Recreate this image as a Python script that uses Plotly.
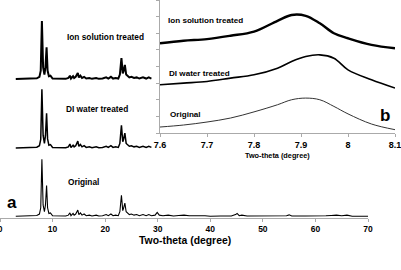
import plotly.graph_objects as go

# ---------------- main panel (a) data ----------------
x_main = [3, 6, 7, 7.5, 7.75, 7.97, 8.2, 8.45, 8.65, 8.86, 9.05, 9.3, 9.6, 10, 11,
          12.5, 13.0, 13.3, 13.5, 13.9, 14.1, 14.4, 14.8, 15.0, 15.3, 15.6, 16.0, 16.4, 17, 17.5,
          18.3, 18.8, 19.5, 20.2, 20.6, 21.1, 21.5, 22.0, 22.5, 22.8, 23.1, 23.35, 23.5, 23.75, 24.0,
          24.3, 24.6, 25.0, 25.5, 26.0, 26.5, 27.2, 27.8, 28.3, 28.8]
y_orig = [0, 0.5, 1.5, 4, 15, 100, 20, 8, 20, 54, 15, 5, 6, 1, 0.5,
          0.5, 2, 6, 1, 5, 2, 4, 11, 3, 6, 2, 4, 1, 2, 0.5,
          2, 0.5, 1, 3, 1, 4, 1, 2, 1, 8, 37, 10, 14, 23, 8,
          6, 3, 4, 2, 3, 1, 3, 1, 3, 1]
y_di = [0, 0.5, 1.5, 4, 15, 103, 22, 8, 22, 61, 16, 5, 6, 1, 0.5,
        0.5, 2, 7, 1, 5, 2, 4, 12, 3, 6, 2, 4, 1, 2, 0.5,
        2, 0.5, 1, 3, 1, 4, 1, 2, 1, 8, 40, 11, 15, 26, 8,
        6, 3, 4, 2, 3, 1, 3, 1, 3, 1]
y_ion = [0, 0.5, 1.5, 4, 15, 102, 21, 8, 21, 56, 15, 5, 6, 1, 0.5,
         0.5, 2, 6, 1, 5, 2, 4, 11, 3, 6, 2, 4, 1, 2, 0.5,
         2, 0.5, 1, 3, 1, 4, 1, 2, 1, 8, 37, 10, 14, 25, 8,
         6, 3, 4, 2, 3, 1, 3, 1, 3, 1]
x_orig_tail = [29.5, 29.9, 30.3, 31, 32, 33, 34, 35, 36, 37, 38, 39, 40, 42, 44, 44.8, 45.1,
               45.5, 46, 47, 50, 52, 54.5, 55, 55.5, 58, 61, 62, 63, 64, 65, 66, 67, 70]
y_orig_tail = [2, 7, 2, 1, 2, 0.5, 1.5, 2, 1, 0.5, 1, 1, 0, 0.5, 0.5, 3, 5,
               1, 2, 0.5, 0.5, 0, 1, 2.5, 0.5, 0.5, 0, 1, 1.5, 2, 1, 2, 0, 0]
DI_OFFSET = 120
ION_OFFSET = 241

# ---------------- inset (b) data ----------------
x_inset = [7.6, 7.65, 7.7, 7.75, 7.8, 7.85, 7.88, 7.91, 7.94, 7.97, 8.0, 8.05, 8.1]
yi_orig = [0.36, 0.48, 0.66, 0.9, 1.27, 1.7, 2.0, 2.1, 2.0, 1.6, 1.15, 0.54, 0.2]
yi_di = [2.9, 3.0, 3.1, 3.3, 3.5, 3.9, 4.3, 4.6, 4.7, 4.5, 3.8, 3.2, 2.7]
yi_ion = [5.4, 5.55, 5.65, 5.85, 6.1, 6.75, 7.1, 7.05, 6.6, 6.0, 5.7, 5.3, 5.1]
inset_ticks = [7.6, 7.7, 7.8, 7.9, 8.0, 8.1]
inset_ticktext = ["7.6", "7.7", "7.8", "7.9", "8", "8.1"]

FONT = "Liberation Sans, Arial, sans-serif"
W, H = 401, 270

fig = go.Figure()
fig.add_trace(go.Scatter(x=x_main + x_orig_tail, y=y_orig + y_orig_tail, mode="lines",
                         line=dict(color="black", width=1.1), xaxis="x", yaxis="y"))
fig.add_trace(go.Scatter(x=x_main, y=[v + DI_OFFSET for v in y_di], mode="lines",
                         line=dict(color="black", width=1.5), xaxis="x", yaxis="y"))
fig.add_trace(go.Scatter(x=x_main, y=[v + ION_OFFSET for v in y_ion], mode="lines",
                         line=dict(color="black", width=2), xaxis="x", yaxis="y"))

fig.add_trace(go.Scatter(x=x_inset, y=yi_orig, mode="lines", line_shape="spline",
                         line=dict(color="#333333", width=1), xaxis="x2", yaxis="y2"))
fig.add_trace(go.Scatter(x=x_inset, y=yi_di, mode="lines", line_shape="spline",
                         line=dict(color="black", width=1.6), xaxis="x2", yaxis="y2"))
fig.add_trace(go.Scatter(x=x_inset, y=yi_ion, mode="lines", line_shape="spline",
                         line=dict(color="black", width=2.4), xaxis="x2", yaxis="y2"))

axcol = "#aaaaaa"
fig.update_layout(
    width=W, height=H, autosize=False,
    margin=dict(l=0, r=0, t=0, b=0, autoexpand=False),
    paper_bgcolor="white", plot_bgcolor="rgba(0,0,0,0)",
    showlegend=False,
    xaxis=dict(domain=[0, 368 / W], range=[0, 70], tickvals=[0, 10, 20, 30, 40, 50, 60, 70],
               showline=True, linecolor=axcol, linewidth=1, ticks="outside", ticklen=3,
               tickcolor=axcol, showgrid=False, zeroline=False, automargin=False,
               ticklabeloverflow="allow",
               tickfont=dict(family=FONT, size=8.5, color="black", weight=700),
               anchor="y", fixedrange=True),
    yaxis=dict(domain=[(H - 218) / H, 1], range=[-3, 380], showticklabels=False,
               tick0=-1.24, dtick=47.4, showline=True, linecolor=axcol, ticks="outside",
               ticklen=3, tickcolor=axcol, showgrid=False, zeroline=False, anchor="x",
               automargin=False),
    xaxis2=dict(domain=[160 / W, 395 / W], range=[7.6, 8.1], tickvals=inset_ticks,
                ticktext=inset_ticktext, showline=True, linecolor=axcol, ticks="outside",
                ticklen=3, tickcolor=axcol, showgrid=False, zeroline=False, automargin=False,
                ticklabeloverflow="allow",
                tickfont=dict(family=FONT, size=9, color="black", weight=700), anchor="y2"),
    yaxis2=dict(domain=[(H - 133) / H, 1], range=[0, 8], dtick=1, showticklabels=False,
                showline=True, linecolor=axcol, ticks="outside", ticklen=3, tickcolor=axcol,
                showgrid=False, zeroline=False, anchor="x2", automargin=False),
)

def ann(text, px, py, size, xanchor="left"):
    fig.add_annotation(text=text, x=px / W, y=1 - py / H, xref="paper", yref="paper",
                       xanchor=xanchor, yanchor="middle", showarrow=False,
                       font=dict(family=FONT, size=size, color="black", weight=700))

ann("Ion solution treated", 65, 37, 8.3)
ann("DI water treated", 64, 109, 8.3)
ann("Original", 66, 182, 8.3)
ann("Ion solution treated", 166, 21, 8.1)
ann("DI water treated", 167, 73, 8.1)
ann("Original", 168, 114, 8.1)
ann("a", 12, 202, 17, xanchor="center")
ann("b", 385, 115, 17, xanchor="center")
ann("Two-theta (degree)", 184.5, 240, 10.4, xanchor="center")
ann("Two-theta (degree)", 277, 155, 7.3, xanchor="center")

fig.write_html("out.html")
